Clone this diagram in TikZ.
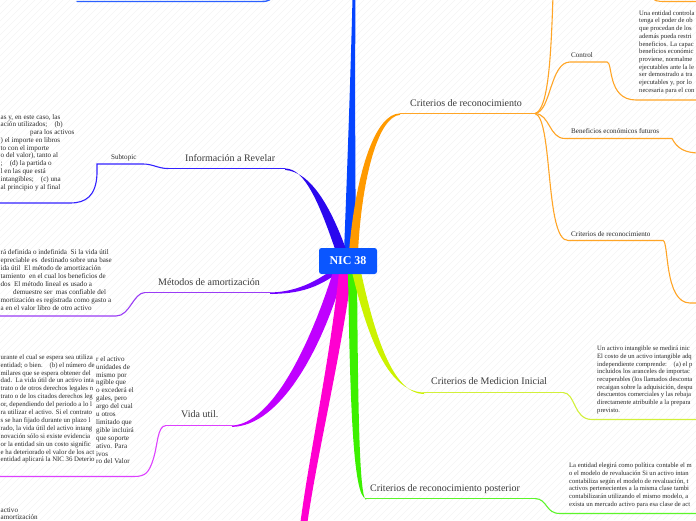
\documentclass[tikz,border=0pt]{standalone}
\usepackage{fontspec}
\setmainfont{Liberation Serif}
\definecolor{nicblue}{HTML}{0A56FF}
\definecolor{upblue}{HTML}{0544FF}
\definecolor{infoblue}{HTML}{2A08EE}
\definecolor{infoline}{HTML}{3322FF}
\definecolor{orng}{HTML}{FF9A00}
\definecolor{orngline}{HTML}{FFA526}
\definecolor{metpur}{HTML}{7000FF}
\definecolor{metline}{HTML}{9A3CF5}
\definecolor{vidapur}{HTML}{C000FF}
\definecolor{vidaline}{HTML}{DD40FF}
\definecolor{magen}{HTML}{FF00D0}
\definecolor{grn}{HTML}{3CF000}
\definecolor{grnline}{HTML}{5CF52A}
\definecolor{ygrn}{HTML}{CCF200}
\definecolor{ygrnline}{HTML}{D2F03A}
\definecolor{txtgray}{HTML}{3A3A3A}
\definecolor{txtdark}{HTML}{2A2A2A}
\begin{document}
\begin{tikzpicture}[x=1pt,y=-1pt,
  lbl/.style={font=\fontsize{10}{12}\selectfont, text=txtgray, inner sep=0pt, anchor=base west},
  sublbl/.style={font=\fontsize{7.1}{7.7}\selectfont, text=txtdark, inner sep=0pt, anchor=base west},
  blk/.style={font=\fontsize{6.6}{7.7}\selectfont, text=txtdark, inner sep=0pt, anchor=north west, align=left},
  lineW/.style={font=\fontsize{7.1}{7.7}\selectfont, text=txtdark, inner sep=0pt, anchor=base west},
  lineV/.style={font=\fontsize{6.8}{7.7}\selectfont, text=txtdark, inner sep=0pt, anchor=base west},
  mainln/.style={line width=1.4pt, line cap=round},
  subln/.style={line width=1.1pt, line cap=round},
  stripe/.style={draw=black!4, line width=0.5pt}]
\useasboundingbox (0,0) rectangle (696,520);
\clip (0,0) rectangle (696,520);
\fill[white] (0,0) rectangle (696,520);
\foreach \i in {0,7,...,1218} \draw[stripe] ({\i-520},520) -- (\i,0);

% named coordinates
\coordinate (oEnd) at (400,113.5);
\coordinate (oHub) at (535,113.5);
\coordinate (iEnd) at (285,168.5);
\coordinate (iHub) at (168,168.5);
\coordinate (mEnd) at (270,292.5);
\coordinate (mHub) at (145,292.5);
\coordinate (vEnd) at (232,425.5);
\coordinate (vHub) at (166,425.5);
\coordinate (gEnd) at (366,498.5);
\coordinate (gHub) at (535,498.5);
\coordinate (yEnd) at (424,392.5);
\coordinate (yHub) at (563,392.5);

% ---- thick tapered branches ----
\fill[upblue] (344,252) .. controls (348,150) and (351,60) .. (352.5,-2) -- (355.5,-2) .. controls (355,60) and (355,150) .. (356,252) -- cycle;
\fill[orng] (349,252) .. controls (356,170) and (376,113) .. (oEnd) -- ([yshift=-1.4pt]oEnd) .. controls (379,116) and (362,175) .. (358,252) -- cycle;
\fill[infoblue] (336,252) .. controls (320,205) and (305,168) .. (iEnd) -- ([yshift=-1.4pt]iEnd) .. controls (312,172) and (332,210) .. (347,252) -- cycle;
\fill[metpur] (329,272) .. controls (310,285) and (292,292) .. (mEnd) -- ([yshift=-1.4pt]mEnd) .. controls (298,294) and (318,288) .. (339,272) -- cycle;
\fill[vidapur] (333,272) .. controls (310,345) and (272,424) .. (vEnd) -- ([yshift=-1.4pt]vEnd) .. controls (280,426) and (322,350) .. (344,272) -- cycle;
\fill[magen] (339,272) .. controls (330,360) and (310,450) .. (300.5,522) -- (307.5,522) .. controls (318,450) and (340,360) .. (352,272) -- cycle;
\fill[grn] (348,272) .. controls (350,400) and (353,498) .. (gEnd) -- ([yshift=-1.4pt]gEnd) .. controls (359,497) and (358,400) .. (357,272) -- cycle;
\fill[ygrn] (352,272) .. controls (366,330) and (386,392) .. (yEnd) -- ([yshift=-1.4pt]yEnd) .. controls (392,394) and (374,332) .. (361,272) -- cycle;

% ---- horizontal label lines ----
\draw[mainln, draw=orngline] (oEnd) -- (oHub);
\draw[mainln, draw=infoline] (iEnd) -- (iHub);
\draw[mainln, draw=metline] (mEnd) -- (mHub);
\draw[mainln, draw=vidaline] (vEnd) -- (vHub);
\draw[mainln, draw=grnline] (gEnd) -- (gHub);
\draw[mainln, draw=ygrnline] (yEnd) -- (yHub);

% top blue line (branch above view)
\coordinate (tbA) at (77,1.5);
\coordinate (tbB) at (262,1.5);
\draw[mainln, draw=upblue!85] (tbA) -- (tbB) .. controls (268,1.5) and (270,0) .. (274,-4);

% ---- orange sub branches ----
\coordinate (ctrlA) at (570,62);
\coordinate (ctrlB) at (607,62);
\coordinate (benA) at (565,138.5);
\coordinate (benB) at (672,138.5);
\coordinate (crA) at (568,240.5);
\coordinate (crB) at (663,240.5);
\draw[subln, draw=orngline] (oHub) .. controls (548,110) and (551,60) .. (553,-5);
\draw[subln, draw=orngline] (oHub) .. controls (551,112) and (550,62) .. (ctrlA) -- (ctrlB)
   .. controls (613,62) and (607,100) .. (636,100) -- (700,100);
\draw[subln, draw=orngline] (oHub) .. controls (550,114) and (549,138.5) .. (benA) -- (benB)
   .. controls (677,148) and (684,153) .. (700,153);
\draw[subln, draw=orngline] (oHub) .. controls (553,118) and (545,240.5) .. (crA) -- (crB)
   .. controls (669,241) and (664,303) .. (690,303) -- (700,303);
\draw[subln, draw=orngline] (651,-4) .. controls (654,1) and (656,1.5) .. (666,1.5) -- (700,1.5);

% other sub branches
\coordinate (subA) at (143,164);
\coordinate (subB) at (97,164);
\draw[subln, draw=infoline] (iHub) .. controls (158,168.5) and (153,164) .. (subA) -- (subB)
   -- (97,174) .. controls (96,196) and (86,203) .. (70,203) -- (-5,203);
\draw[subln, draw=metline] (mHub) .. controls (133,293) and (130,316) .. (116,316) -- (-5,316);
\draw[subln, draw=vidaline] (vHub) .. controls (157,426) and (158,445) .. (153,460)
   .. controls (149,472) and (146,476.5) .. (134,476.5) -- (-5,476.5);
\draw[subln, draw=ygrnline] (yHub) .. controls (576,393) and (573,419.5) .. (592,419.5) -- (700,419.5);
\draw[subln, draw=grnline] (gHub) .. controls (548,499) and (545,513.5) .. (560,513.5) -- (700,513.5);

% ---- central node ----
\node[fill=nicblue, rounded corners=2.5pt, minimum width=58pt, minimum height=26pt, inner sep=0pt,
      text=white, font=\bfseries\fontsize{12}{12}\selectfont] (nic) at (348,261) {NIC 38};

% ---- branch labels ----
\node[lbl] (lCrit) at (410,106.5) {Criterios de reconocimiento};
\node[lbl] (lInfo) at (185,161) {Información a Revelar};
\node[lbl] (lMet) at (158,285) {Métodos de amortización};
\node[lbl] (lVida) at (181,417) {Vida util.};
\node[lbl] (lMed) at (431,384) {Criterios de Medicion Inicial};
\node[lbl] (lPost) at (370,491) {Criterios de reconocimiento posterior};

\node[sublbl] (lCtrl) at (571,57) {Control};
\node[sublbl] (lBen) at (571,133) {Beneficios económicos futuros};
\node[sublbl] (lCrit2) at (571,236) {Criterios de reconocimiento};
\node[sublbl] (lSub) at (111,159.5) {Subtopic};

% ---- text blocks (right, as far as visible) ----
\node[blk] (tCtrl) at (639,10.5) {Una entidad controla\\tenga el poder de ob\\que procedan de los\\además pueda restri\\beneficios. La capac\\beneficios económic\\proviene, normalme\\ejecutables ante la le\\ser demostrado a tra\\ejecutables y, por lo\\necesaria para el con};
\node[blk] (tMed) at (597,346) {Un activo intangible se medirá inic\\El costo de un activo intangible adq\\independiente comprende:~~~~(a) el p\\incluidos los aranceles de importac\\recuperables (los llamados desconta\\recaigan sobre la adquisición, despu\\descuentos comerciales y las rebaja\\directamente atribuible a la prepara\\previsto.};
\node[blk] (tPost) at (569,463) {La entidad elegirá como política contable el m\\o el modelo de revaluación Si un activo intan\\contabiliza según el modelo de revaluación, t\\activos pertenecientes a la misma clase tambi\\contabilizarán utilizando el mismo modelo, a\\exista un mercado activo para esa clase de act};

% ---- text blocks (left, as far as visible) ----
\foreach \xx/\yy/\tt [count=\k] in {
  0.5/119/{as y, en este caso, las},
  0.5/126.5/{ación utilizados;~~~~(b)},
  30/134.5/{para los activos},
  0.5/142/{) el importe en libros},
  0.5/150/{to con el importe},
  0.5/157.5/{o del valor), tanto al},
  0.5/165.5/{;~~~~(d) la partida o},
  0.5/173/{l en las que está},
  0.5/181/{intangibles;~~~~(c) una},
  0.5/189/{al principio y al final}}
  \node[lineW] (inf\k) at (\xx,\yy) {\tt};

\foreach \xx/\yy/\tt [count=\k] in {
  0.5/254.5/{rá definida o indefinida~~Si la vida útil},
  0.5/262.5/{epreciable es~~destinado sobre una base},
  0.5/270.5/{ida útil~~El método de amortización},
  0.5/278.5/{tamiento~~en el cual los beneficios de},
  0.5/286.5/{dos~~El método lineal es usado a},
  13/294.5/{demuestre ser~~mas confiable del},
  0.5/302.5/{mortización es registrada como gasto a},
  0.5/310.5/{a en el valor libro de otro activo}}
  \node[lineW] (met\k) at (\xx,\yy) {\tt};

\foreach \tt [count=\k] in {
  {urante el cual se espera sea utiliza},
  {entidad; o bien.~~~~(b) el número de},
  {milares que se espera obtener del},
  {dad.~~La vida útil de un activo inta},
  {trato o de otros derechos legales n},
  {trato o de los citados derechos leg},
  {or, dependiendo del periodo a lo l},
  {ra utilizar el activo. Si el contrato},
  {s se han fijado durante un plazo l},
  {rado, la vida útil del activo intang},
  {novación sólo si existe evidencia},
  {or la entidad sin un costo signific},
  {e ha deteriorado el valor de los act},
  {entidad aplicará la NIC 36 Deterio}}
  \node[lineV] (vl\k) at (0.5,{351.3+7.9*\k}) {\tt};

\foreach \tt [count=\k] in {
  {r el activo}, {unidades de}, {mismo por}, {ngible que}, {o excederá el},
  {gales, pero}, {argo del cual}, {u otros}, {limitado que}, {gible incluirá},
  {que soporte}, {ativo. Para}, {ivos}, {ro del Valor}}
  \node[lineW] (vr\k) at (96,{353.3+7.9*\k}) {\tt};

\node[lineW] (bl1) at (0.5,512.5) {activo};
\node[lineW] (bl2) at (0.5,519.3) {amortización};
\end{tikzpicture}
\end{document}
